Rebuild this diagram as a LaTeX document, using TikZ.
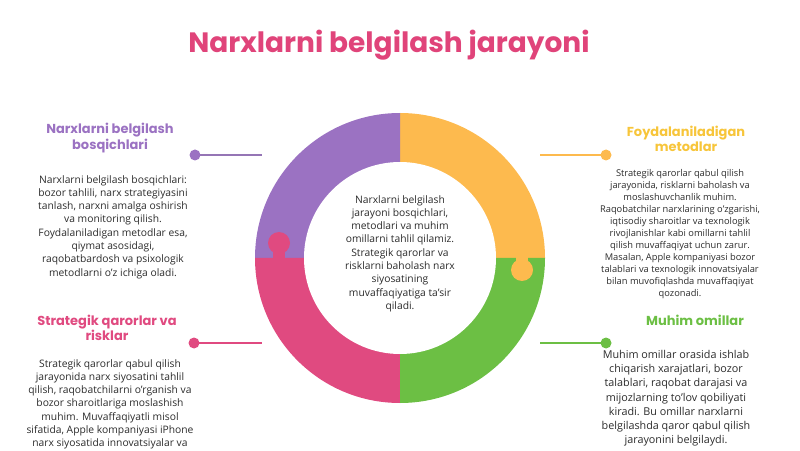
\documentclass[tikz,border=0pt]{standalone}
\usepackage{fontspec}
\setmainfont{Open Sans}
\newfontfamily\headfont{Poppins}
\usepackage{xcolor}
\definecolor{ringpurple}{HTML}{9B72C2}
\definecolor{ringorange}{HTML}{FDBA4E}
\definecolor{ringgreen}{HTML}{6CBF44}
\definecolor{ringpink}{HTML}{E04A80}
\definecolor{titlepink}{HTML}{E0447A}
\definecolor{headyellow}{HTML}{F7C53A}
\definecolor{bodytext}{HTML}{2B2B2B}

\tikzset{
  body/.style={font=\fontsize{10.3}{13.3}\selectfont, text=bodytext, align=center, inner sep=0pt, anchor=north},
  head/.style={font=\headfont\bfseries\fontsize{13}{15.5}\selectfont, align=center, inner sep=0pt},
  link/.style={line width=1.4pt},
}

\begin{document}
\begin{tikzpicture}[x=1pt,y=1pt]
            \useasboundingbox (0,0) rectangle (800,450);
            % ring
            \coordinate (c) at (400,192);
            \fill[ringorange] (c) -- ++(0:145) arc[start angle=0,end angle=90,radius=145] -- cycle;
            \fill[ringpurple] (c) -- ++(90:145) arc[start angle=90,end angle=180,radius=145] -- cycle;
            \fill[ringpink] (c) -- ++(180:145) arc[start angle=180,end angle=270,radius=145] -- cycle;
            \fill[ringgreen] (c) -- ++(270:145) arc[start angle=270,end angle=360,radius=145] -- cycle;
            % puzzle tabs
            \fill[ringpink] (273,190) rectangle (285,206);
            \fill[ringpink] (279,207) circle (11);
            \fill[ringorange] (516,194) rectangle (528,180);
            \fill[ringorange] (522,180) circle (11);
            \fill[white] (c) circle (96);
            \node[body] (center) at (400,255) {Narxlarni belgilash\\jarayoni bosqichlari,\\metodlari va muhim\\omillarni tahlil qilamiz.\\Strategik qarorlar va\\risklarni baholash narx\\siyosatining\\muvaffaqiyatiga ta'sir\\qiladi.};

            % title
            \node[font=\headfont\bfseries\fontsize{28}{32}\selectfont, text=titlepink] (title) at (389,405) {Narxlarni belgilash jarayoni};

            % links
            \coordinate (dotA) at (195,295); \coordinate (endA) at (262,295);
            \coordinate (dotB) at (606,295); \coordinate (endB) at (540,295);
            \coordinate (dotC) at (194,107); \coordinate (endC) at (262,107);
            \coordinate (dotD) at (606,107); \coordinate (endD) at (540,107);
            \draw[link,ringpurple!80!gray] (dotA) -- (endA);
            \draw[link,ringorange] (dotB) -- (endB);
            \draw[link,ringpink] (dotC) -- (endC);
            \draw[link,ringgreen] (dotD) -- (endD);
            \fill[ringpurple] (dotA) circle (5.5);
            \fill[ringorange] (dotB) circle (5.5);
            \fill[ringpink] (dotC) circle (5.5);
            \fill[ringgreen] (dotD) circle (5.5);

            % headings
            \node[head,text=ringpurple] (headA) at (110,312) {Narxlarni belgilash\\bosqichlari};
            \node[head,text=headyellow] (headB) at (686,311) {Foydalaniladigan\\metodlar};
            \node[head,text=ringpink] (headC) at (107,122) {Strategik qarorlar va\\risklar};
            \node[head,text=ringgreen] (headD) at (695,130) {Muhim omillar};

            % texts
            \node[body] (textA) at (113,275) {Narxlarni belgilash bosqichlari:\\bozor tahlili, narx strategiyasini\\tanlash, narxni amalga oshirish\\va monitoring qilish.\\Foydalaniladigan metodlar esa,\\qiymat asosidagi,\\raqobatbardosh va psixologik\\metodlarni o'z ichiga oladi.};
            \node[body,font=\fontsize{9.3}{12}\selectfont] (textB) at (680,281) {Strategik qarorlar qabul qilish\\jarayonida, risklarni baholash va\\moslashuvchanlik muhim.\\Raqobatchilar narxlarining o'zgarishi,\\iqtisodiy sharoitlar va texnologik\\rivojlanishlar kabi omillarni tahlil\\qilish muvaffaqiyat uchun zarur.\\Masalan, Apple kompaniyasi bozor\\talablari va texnologik innovatsiyalar\\bilan muvofiqlashda muvaffaqiyat\\qozonadi.};
            \node[body] (textC) at (110,91) {Strategik qarorlar qabul qilish\\jarayonida narx siyosatini tahlil\\qilish, raqobatchilarni o'rganish va\\bozor sharoitlariga moslashish\\muhim. Muvaffaqiyatli misol\\sifatida, Apple kompaniyasi iPhone\\narx siyosatida innovatsiyalar va};
            \node[body,font=\fontsize{10.8}{14.2}\selectfont] (textD) at (676,100) {Muhim omillar orasida ishlab\\chiqarish xarajatlari, bozor\\talablari, raqobat darajasi va\\mijozlarning to'lov qobiliyati\\kiradi. Bu omillar narxlarni\\belgilashda qaror qabul qilish\\jarayonini belgilaydi.};
        \end{tikzpicture}
\end{document}
